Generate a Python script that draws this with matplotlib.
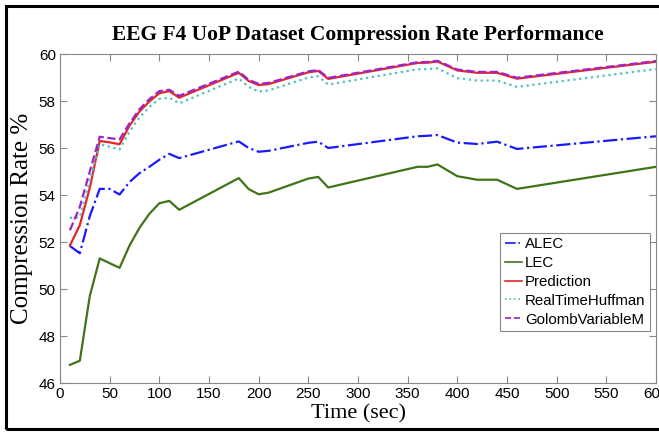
import matplotlib
matplotlib.use("Agg")
from matplotlib import pyplot as plt
from matplotlib.patches import Rectangle

# time stamps (sec)
t = [10, 20, 30, 40, 50, 60, 70, 80, 90, 100, 110, 120, 180, 190, 200, 210,
     250, 260, 270, 360, 370, 380, 400, 420, 440, 460, 600]

alec = [51.83, 51.52, 53.1, 54.26, 54.26, 54.02, 54.55, 54.93, 55.2, 55.5, 55.75, 55.57,
        56.28, 56.0, 55.84, 55.88, 56.22, 56.27, 56.0, 56.5, 56.52, 56.55,
        56.23, 56.17, 56.27, 55.96, 56.5]
lec = [46.77, 46.95, 49.7, 51.3, 51.1, 50.9, 51.85, 52.6, 53.2, 53.65, 53.75, 53.37,
       54.72, 54.25, 54.03, 54.1, 54.7, 54.77, 54.32, 55.2, 55.2, 55.3,
       54.8, 54.65, 54.65, 54.26, 55.2]
prediction = [51.85, 52.72, 54.3, 56.3, 56.24, 56.16, 56.95, 57.55, 57.98, 58.33, 58.42, 58.14,
              59.2, 58.85, 58.68, 58.72, 59.22, 59.28, 58.94, 59.62, 59.63, 59.68,
              59.3, 59.2, 59.2, 58.95, 59.67]
huffman = [53.03, 53.05, 54.6, 56.17, 56.05, 55.94, 56.7, 57.3, 57.75, 58.09, 58.14, 57.9,
           58.96, 58.6, 58.4, 58.45, 59.0, 59.05, 58.7, 59.35, 59.36, 59.39,
           58.97, 58.87, 58.87, 58.6, 59.36]
golomb = [52.5, 53.5, 55.0, 56.48, 56.42, 56.37, 57.05, 57.65, 58.08, 58.42, 58.48, 58.22,
          59.25, 58.9, 58.73, 58.77, 59.26, 59.32, 58.98, 59.65, 59.66, 59.71,
          59.34, 59.24, 59.24, 58.99, 59.7]

xticks = list(range(0, 601, 50))
yticks = list(range(46, 61, 2))

fig = plt.figure(figsize=(6.59, 4.32), dpi=100)
ax = fig.add_axes([0.091, 0.1134, 0.9045, 0.7616])

ax.plot(t, alec, '-.', color=(0.1, 0.1, 1.0), lw=1.6, label='ALEC')
ax.plot(t, lec, '-', color=(0.25, 0.45, 0.1), lw=1.6, label='LEC')
ax.plot(t, prediction, '-', color=(0.9, 0.15, 0.15), lw=1.6, label='Prediction')
ax.plot(t, huffman, ':', color=(0.3, 0.75, 0.75), lw=1.6, label='RealTimeHuffman')
ax.plot(t, golomb, '--', color=(0.6, 0.15, 0.8), lw=1.6, label='GolombVariableM')

ax.set_xlim(0, 600)
ax.set_ylim(46, 60)
ax.set_xticks(xticks)
ax.set_yticks(yticks)
ax.tick_params(direction='in', top=True, right=True, length=5, color='#888888',
               labelsize=11, pad=3)
for lab in ax.get_xticklabels() + ax.get_yticklabels():
    lab.set_fontfamily('Liberation Sans')
for sp in ax.spines.values():
    sp.set_color('#888888')

ax.set_title('EEG F4 UoP Dataset Compression Rate Performance', fontfamily='Liberation Serif',
             fontweight='bold', fontsize=15.5, pad=10)
ax.set_xlabel('Time (sec)', fontfamily='Liberation Serif', fontsize=16, labelpad=2)
ax.set_ylabel('Compression Rate %', fontfamily='Liberation Serif', fontsize=18, labelpad=4)

leg = ax.legend(loc='lower right', bbox_to_anchor=(0.99, 0.158), borderaxespad=0,
                prop={'family': 'Liberation Sans', 'size': 10.8},
                handlelength=1.15, handletextpad=0.2, borderpad=0.3, labelspacing=0.32,
                fancybox=False, framealpha=1, edgecolor='#888888')
leg.get_frame().set_linewidth(0.8)
for h in leg.get_lines():
    h.set_linewidth(1.2)

# outer frame around the figure
fig.patches.append(Rectangle((6 / 659, 3 / 432), 1.0, 1 - 9 / 432, transform=fig.transFigure,
                             fill=False, edgecolor='black', lw=2.2))

fig.savefig('out.png', dpi=100)
